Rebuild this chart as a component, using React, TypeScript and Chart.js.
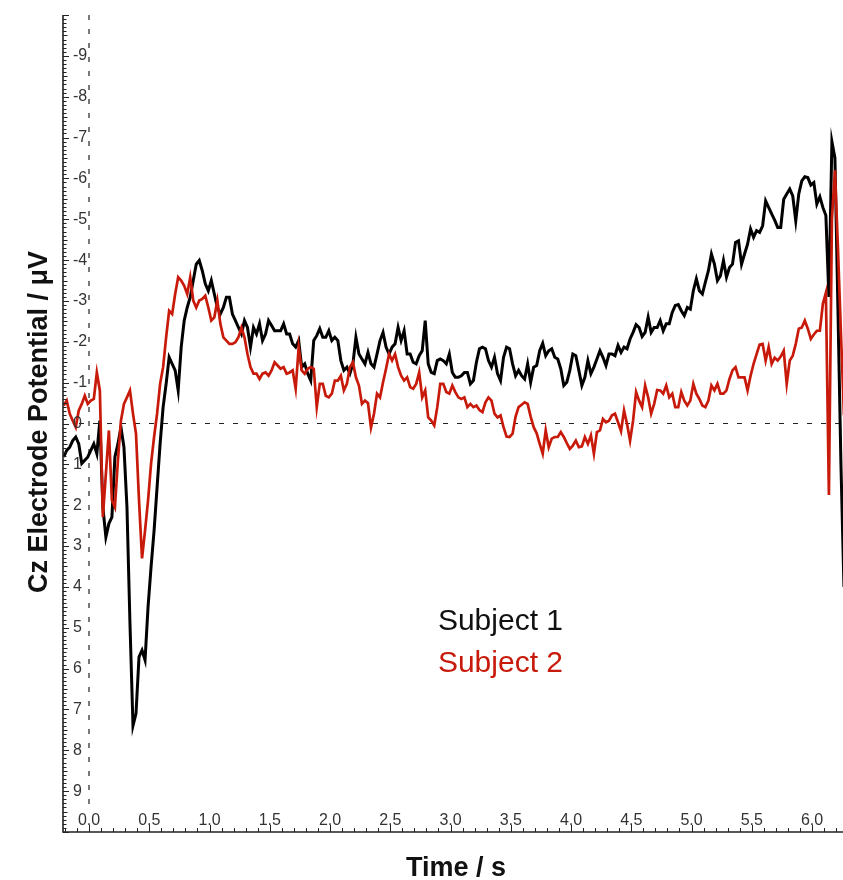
import React, { useEffect, useRef } from "react";
import { Chart, registerables } from "chart.js";

Chart.register(...registerables);

// Sampling of both recordings (seconds)
const TIME_START = -0.21;
const TIME_STEP = 0.025;

// Subject 1 (black) Cz potential, µV
const subject1 = [
  0.82, 0.66, 0.58, 0.42, 0.33, 0.50, 0.98, 0.90, 0.82, 0.66,
  0.50, 0.74, -0.07, 2.05, 2.78, 2.45, 2.29, 0.82, 0.50, 0.09,
  0.58, 2.05, 4.90, 7.40, 7.10, 5.71, 5.55, 5.79, 4.49, 3.51,
  2.62, 1.56, 0.50, -0.40, -0.97, -1.62, -1.46, -1.30, -0.81, -1.87,
  -2.52, -2.84, -3.09, -3.50, -3.90, -3.99, -3.74, -3.42, -3.25, -3.50,
  -3.17, -2.84, -2.68, -2.84, -3.09, -3.09, -2.68, -2.52, -2.35, -2.19,
  -2.52, -2.35, -1.87, -2.35, -2.19, -2.44,
  -2.03, -2.19, -2.52, -2.40, -2.27, -2.27, -2.27, -2.44, -2.19, -2.19,
  -1.95, -1.87, -2.03, -1.38, -1.46, -1.22, -1.05, -2.03, -2.15, -2.32,
  -2.11, -2.11, -2.27, -2.03, -2.11, -2.03, -1.54, -1.30, -1.38, -1.22,
  -1.46, -2.11, -1.70, -1.58, -1.46, -1.74, -1.46, -1.38, -1.70, -2.03,
  -2.23, -1.87, -1.70, -1.87, -1.95, -2.35, -2.03, -2.27, -1.70, -1.70,
  -1.50, -1.46, -1.66, -1.78, -2.52, -1.46, -1.25, -1.22, -1.54, -1.58,
  -1.54, -1.46, -1.70, -1.25, -1.13, -1.13,
  -1.17, -1.25, -1.25, -0.97, -1.05, -1.50, -1.83, -1.87, -1.83, -1.54,
  -1.38, -1.62, -1.22, -1.05, -1.62, -1.87, -1.83, -1.46, -1.17, -1.30,
  -1.17, -1.09, -1.46, -1.01, -1.38, -1.42, -1.78, -1.96, -1.66, -1.78,
  -1.83, -1.62, -1.58, -1.34, -0.93, -1.01, -1.30, -1.70, -1.66, -1.30,
  -0.93, -1.13, -1.54, -1.22, -1.38, -1.58, -1.78, -1.62, -1.42, -1.70,
  -1.70, -1.66, -1.91, -1.74, -1.87, -1.83, -2.07, -2.23, -2.42, -2.35,
  -2.13, -2.23, -2.60, -2.23, -2.35, -2.35, -2.52,
  -2.27, -2.44, -2.44, -2.72, -2.89, -2.91, -2.76, -2.64, -2.84, -2.80,
  -3.25, -3.54, -3.25, -3.17, -3.46, -3.74, -4.15, -3.90, -3.50, -3.62,
  -3.99, -3.58, -3.82, -3.90, -4.43, -4.47, -3.90, -4.15, -4.39, -4.76,
  -4.56, -4.72, -4.68, -4.84, -5.45, -5.29, -5.13, -4.98, -4.80, -4.80,
  -5.49, -5.62, -5.74, -5.57, -4.96, -5.62, -5.94, -6.04, -6.02, -5.84,
  -5.90, -5.37, -5.55, -5.29, -5.09, -3.10, -6.90, -6.50, -2.80, 1.00,
  4.00,
];

// Subject 2 (red) Cz potential, µV
const subject2 = [
  -0.44, -0.56, -0.24, -0.07, 0.09, -0.32, -0.48, -0.68, -0.48, -0.56,
  -0.60, -1.25, -0.81, 2.29, 1.23, 0.17, 1.88, 2.05, 0.90, -0.07,
  -0.48, -0.64, -0.81, -0.24, 0.25, 1.88, 3.30, 2.62, 1.88, 0.98,
  0.33, -0.24, -0.97, -1.38, -2.11, -2.76, -2.68, -3.17, -3.58, -3.50,
  -3.37, -3.17, -3.58, -3.01, -2.84, -3.01, -3.05, -3.13, -2.84, -2.52,
  -2.60, -3.01, -2.44, -2.11, -2.03, -1.95, -1.95, -1.99, -2.11, -2.35,
  -2.11, -1.70, -1.38, -1.22, -1.22, -1.09,
  -1.22, -1.25, -1.17, -1.30, -1.50, -1.42, -1.34, -1.38, -1.22, -1.25,
  -1.30, -0.85, -1.87, -1.30, -1.22, -1.34, -1.38, -1.34, -0.40, -0.97,
  -0.97, -0.68, -0.64, -0.73, -1.05, -1.05, -1.17, -0.81, -0.97, -1.38,
  -1.50, -1.13, -0.93, -0.48, -0.56, -0.50, 0.10, -0.24, -0.73, -0.64,
  -1.01, -1.34, -1.70, -1.54, -1.70, -1.38, -1.17, -1.05, -1.13, -0.89,
  -0.85, -0.97, -1.25, -0.64, -0.81, -0.15, -0.07, 0.05, -0.40, -0.97,
  -0.97, -0.77, -0.73, -0.93, -0.77, -0.64,
  -0.60, -0.64, -0.40, -0.48, -0.40, -0.44, -0.33, -0.28, -0.52, -0.64,
  -0.56, -0.24, -0.15, -0.20, 0.09, 0.32, 0.33, 0.25, -0.17, -0.40,
  -0.46, -0.52, -0.48, -0.17, 0.09, 0.24, 0.50, 0.74, 0.17, 0.58,
  0.37, 0.33, 0.33, 0.21, 0.33, 0.48, 0.62, 0.54, 0.42, 0.58,
  0.56, 0.33, 0.50, 0.29, 0.74, 0.21, 0.17, -0.11, -0.03, -0.07,
  -0.20, -0.24, -0.03, 0.19, -0.32, 0.01, 0.42, -0.07, -0.77, -0.56,
  -0.40, -0.93, -0.64, -0.24, -0.48, -0.82, -0.81,
  -0.73, -0.93, -0.64, -0.73, -0.40, -0.40, -0.77, -0.56, -0.44, -0.56,
  -0.97, -0.73, -0.60, -0.44, -0.40, -0.56, -0.93, -0.81, -0.97, -0.73,
  -0.73, -0.81, -1.09, -1.30, -1.38, -1.13, -1.13, -1.13, -0.81, -1.17,
  -1.46, -1.70, -1.93, -1.95, -1.54, -1.87, -1.46, -1.61, -1.54, -1.64,
  -1.78, -0.97, -1.54, -1.66, -1.95, -2.32, -2.35, -2.52, -2.32, -2.07,
  -2.18, -2.27, -2.27, -2.93, -3.20, 1.75, -5.00, -6.20, -4.30, -2.20,
  -0.20,
];

// Axis ticks and labels
const xMajorTicks = [0.0, 0.5, 1.0, 1.5, 2.0, 2.5, 3.0, 3.5, 4.0, 4.5, 5.0, 5.5, 6.0];
const xTickLabels = ["0.0", "0.5", "1.0", "1.5", "2.0", "2.5", "3.0", "3.5", "4.0", "4.5", "5.0", "5.5", "6.0"];
const yMajorTicks = [-9, -8, -7, -6, -5, -4, -3, -2, -1, 0, 1, 2, 3, 4, 5, 6, 7, 8, 9];
const yTickLabels = ["-9", "-8", "-7", "-6", "-5", "-4", "-3", "-2", "-1", "0", "1", "2", "3", "4", "5", "6", "7", "8", "9"];
const seriesNames = ["Subject 1", "Subject 2"];
const xTitle = "Time / s";
const yTitle = "Cz Electrode Potential / \u03bcV";

const X_MIN = -0.2158;
const X_MAX = 6.257;
const Y_MIN = -10;
const Y_MAX = 10;

const FONT = '"Liberation Sans", Arial, Helvetica, sans-serif';
const RED = "rgb(200,26,10)";

const axesPlugin = {
  id: "customAxes",
  beforeDatasetsDraw(chart: any) {
    const { ctx, chartArea, scales } = chart;
    const x = scales.x;
    const y = scales.y;
    ctx.save();
    ctx.strokeStyle = "#222";
    ctx.lineWidth = 1.2;
    ctx.setLineDash([5, 9]);
    const x0 = x.getPixelForValue(0);
    const y0 = y.getPixelForValue(0);
    ctx.beginPath();
    ctx.moveTo(x0, chartArea.top);
    ctx.lineTo(x0, chartArea.bottom - 26);
    ctx.stroke();
    ctx.beginPath();
    ctx.moveTo(x0 - 10, y0);
    ctx.lineTo(chartArea.right, y0);
    ctx.stroke();
    ctx.restore();
  },
  afterDraw(chart: any) {
    const { ctx, chartArea, scales } = chart;
    const x = scales.x;
    const y = scales.y;
    const L = chartArea.left;
    const B = chartArea.bottom;
    ctx.save();
    ctx.strokeStyle = "#222";
    ctx.lineWidth = 1.6;
    ctx.setLineDash([]);
    ctx.beginPath();
    ctx.moveTo(L, chartArea.top);
    ctx.lineTo(L, B);
    ctx.lineTo(chartArea.right, B);
    ctx.stroke();

    ctx.lineWidth = 1;
    ctx.beginPath();
    for (let i = -100; i <= 100; i++) {
      const v = i / 10;
      const py = Math.round(y.getPixelForValue(v)) + 0.5;
      const len = i % 10 === 0 ? 6 : i % 5 === 0 ? 4.5 : 3.5;
      ctx.moveTo(L, py);
      ctx.lineTo(L + len, py);
    }
    for (let i = -2; i <= 62; i++) {
      const v = i / 10;
      const px = Math.round(x.getPixelForValue(v)) + 0.5;
      const len = i % 5 === 0 ? 7 : 4;
      ctx.moveTo(px, B);
      ctx.lineTo(px, B - len);
    }
    ctx.stroke();

    ctx.fillStyle = "#333";
    ctx.font = `16px ${FONT}`;
    ctx.textAlign = "left";
    ctx.textBaseline = "middle";
    yMajorTicks.forEach((v, i) => {
      ctx.fillText(yTickLabels[i], L + 10, y.getPixelForValue(v));
    });
    ctx.textAlign = "center";
    ctx.textBaseline = "alphabetic";
    xMajorTicks.forEach((v, i) => {
      ctx.fillText(xTickLabels[i], x.getPixelForValue(v), B - 7);
    });

    ctx.fillStyle = "#111";
    ctx.font = `bold 27px ${FONT}`;
    ctx.textAlign = "center";
    ctx.fillText(xTitle, 456, 876);
    ctx.save();
    ctx.translate(47, 422);
    ctx.rotate(-Math.PI / 2);
    ctx.fillText(yTitle, 0, 0);
    ctx.restore();

    ctx.font = `30px ${FONT}`;
    ctx.textAlign = "right";
    ctx.fillStyle = "#111";
    ctx.fillText(seriesNames[0], 563, 630);
    ctx.fillStyle = RED;
    ctx.fillText(seriesNames[1], 563, 672);
    ctx.restore();
  },
};

export default function App() {
  const ref = useRef<HTMLCanvasElement | null>(null);
  useEffect(() => {
    if (!ref.current) return;
    const toPoints = (arr: number[]) =>
      arr.map((v, i) => ({ x: TIME_START + i * TIME_STEP, y: v }));
    const chart = new Chart(ref.current, {
      type: "line",
      data: {
        datasets: [
          {
            label: seriesNames[1],
            data: toPoints(subject2),
            borderColor: RED,
            borderWidth: 2.7,
            pointRadius: 0,
            tension: 0,
            fill: false,
          },
          {
            label: seriesNames[0],
            data: toPoints(subject1),
            borderColor: "#000",
            borderWidth: 3,
            pointRadius: 0,
            tension: 0,
            fill: false,
          },
        ],
      },
      options: {
        animation: false,
        responsive: false,
        devicePixelRatio: 1,
        layout: { padding: { left: 63, top: 15, right: 0, bottom: 48 } },
        plugins: { legend: { display: false }, tooltip: { enabled: false }, title: { display: false } },
        scales: {
          x: { type: "linear", min: X_MIN, max: X_MAX, display: false },
          y: { type: "linear", min: Y_MIN, max: Y_MAX, reverse: true, display: false },
        },
      },
      plugins: [axesPlugin],
    });
    return () => chart.destroy();
  }, []);
  return (
    <div style={{ position: "absolute", left: 0, top: 0, width: 843, height: 880, background: "#fff" }}>
      <canvas ref={ref} width={843} height={880} style={{ display: "block" }} />
    </div>
  );
}
